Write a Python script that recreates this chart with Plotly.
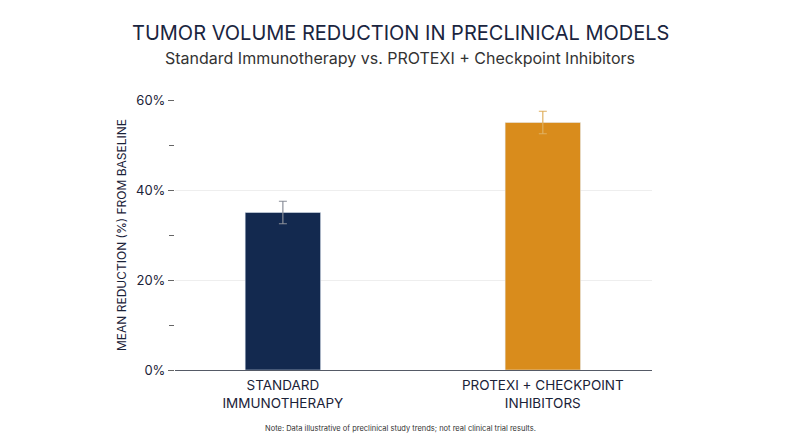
import plotly.graph_objects as go

categories = ["STANDARD<br>IMMUNOTHERAPY", "PROTEXI + CHECKPOINT<br>INHIBITORS"]
reduction = [35, 55]
error = [2.5, 2.5]
bar_colors = ["#13294f", "#d98c1c"]
err_colors = ["#8a8f99", "#e0b060"]

tick_vals = [0, 20, 40, 60]
tick_text = ["0%", "20%", "40%", "60%"]

fig = go.Figure()
for i in range(2):
    fig.add_trace(go.Bar(
        x=[categories[i]], y=[reduction[i]],
        marker_color=bar_colors[i], width=0.29,
        error_y=dict(type="data", array=[error[i]], color=err_colors[i],
                     thickness=1.2, width=4),
        showlegend=False,
    ))

# page body has an 8px margin, so the figure is sized to fit inside it
W, H = 784, 431
L, R, T, B = 167, 140, 92, 69
pw, ph = W - L - R, H - T - B


def px(xp, yp):
    # figure pixel -> paper coords
    return (xp - L) / pw, (H - B - yp) / ph


cx, ty = px(392, 25)
_, sy = px(392, 50)
_, ny = px(392, 420)

fig.update_layout(
    width=W, height=H,
    paper_bgcolor="white", plot_bgcolor="white",
    font=dict(family="Inter, Lato, sans-serif", color="#1a2238"),
    margin=dict(l=L, r=R, t=T, b=B),
    xaxis=dict(
        range=[-0.415, 1.42], showline=True, linecolor="#555a66", linewidth=1.2,
        tickfont=dict(size=13.5, color="#1a2238"), ticks="", ticklabelstandoff=3,
    ),
    yaxis=dict(
        range=[0, 60], tickvals=tick_vals, ticktext=tick_text,
        ticks="outside", ticklen=6, tickcolor="#666", ticksuffix=" ",
        minor=dict(dtick=10, ticks="outside", ticklen=5, tickcolor="#666", showgrid=False),
        showgrid=True, gridcolor="#eeeeee", zeroline=False,
        tickfont=dict(size=13, color="#1a2238"),
        title=dict(text="MEAN REDUCTION (%) FROM BASELINE", font=dict(size=12, color="#1a2238"), standoff=6),
    ),
    annotations=[
        dict(text="TUMOR VOLUME REDUCTION IN PRECLINICAL MODELS",
             x=cx, y=ty, xref="paper", yref="paper",
             xanchor="center", yanchor="middle", showarrow=False,
             font=dict(size=20, color="#1a2540")),
        dict(text="Standard Immunotherapy vs. PROTEXI + Checkpoint Inhibitors",
             x=cx, y=sy, xref="paper", yref="paper",
             xanchor="center", yanchor="middle", showarrow=False,
             font=dict(size=16, color="#333")),
        dict(text="Note: Data illustrative of preclinical study trends; not real clinical trial results.",
             x=cx, y=ny, xref="paper", yref="paper",
             xanchor="center", yanchor="middle", showarrow=False,
             font=dict(size=7.5, color="#333")),
    ],
)
fig.write_html("out.html")
